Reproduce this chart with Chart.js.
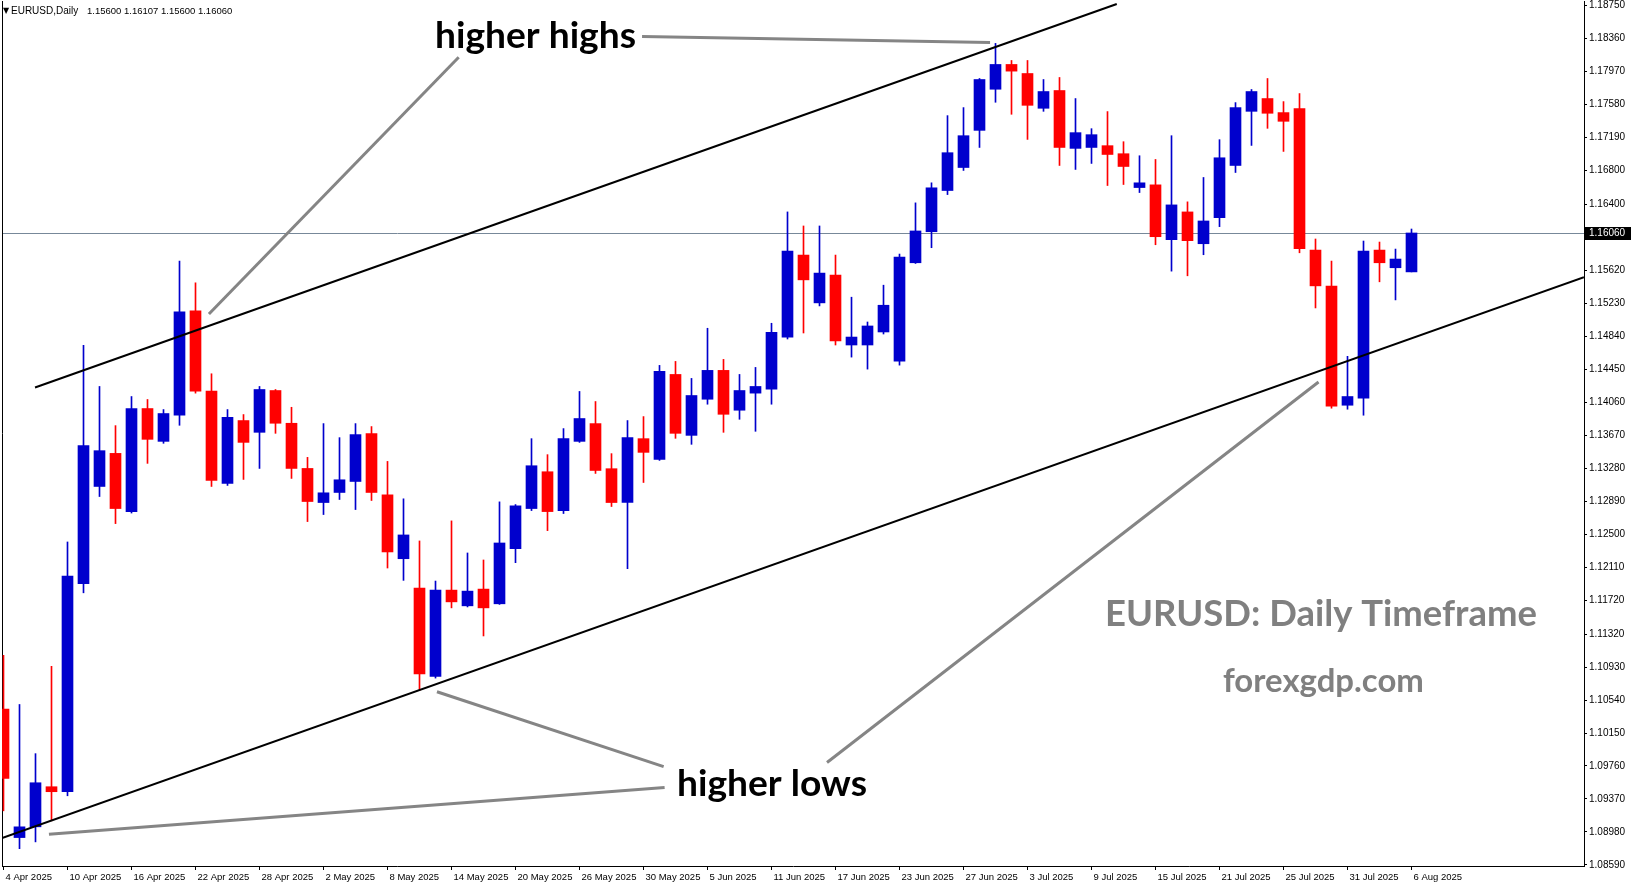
<!DOCTYPE html>
<html>
<head>
<meta charset="utf-8">
<title>EURUSD Daily</title>
<script src="https://cdn.jsdelivr.net/npm/chart.js@4.4.1/dist/chart.umd.min.js"></script>
<style>
  html, body { margin: 0; padding: 0; background: #fff; }
  canvas { display: block; }
</style>
</head>
<body>
<canvas id="chart" width="1631" height="888"></canvas>
<script>
// one label every 4 bars, bar 0 = 4 Apr 2025
const tickDates = ['4 Apr 2025', '10 Apr 2025', '16 Apr 2025', '22 Apr 2025', '28 Apr 2025', '2 May 2025',
  '8 May 2025', '14 May 2025', '20 May 2025', '26 May 2025', '30 May 2025', '5 Jun 2025', '11 Jun 2025',
  '17 Jun 2025', '23 Jun 2025', '27 Jun 2025', '3 Jul 2025', '9 Jul 2025', '15 Jul 2025', '21 Jul 2025',
  '25 Jul 2025', '31 Jul 2025', '6 Aug 2025'];

const openP = [1.10432, 1.08914, 1.09041, 1.09515, 1.09456, 1.11914, 1.13064, 1.13455, 1.12767, 1.13985,
  1.13597, 1.13906, 1.15139, 1.14190, 1.13099, 1.13843, 1.13704, 1.14198, 1.13811, 1.13277,
  1.12874, 1.12993, 1.13123, 1.13689, 1.12965, 1.12210, 1.11863, 1.10819, 1.11839, 1.11653,
  1.11851, 1.11677, 1.12329, 1.12803, 1.13238, 1.12779, 1.13597, 1.13807, 1.13274, 1.12874,
  1.13629, 1.13384, 1.14388, 1.13668, 1.14095, 1.14436, 1.13965, 1.14167, 1.14214, 1.14830,
  1.15799, 1.15234, 1.15562, 1.14736, 1.14736, 1.14890, 1.14546, 1.15708, 1.16075, 1.16562,
  1.16834, 1.17273, 1.17759, 1.18052, 1.17945, 1.17534, 1.17744, 1.17060, 1.17071, 1.17092,
  1.16997, 1.16597, 1.16629, 1.15981, 1.16309, 1.15933, 1.16241, 1.16858, 1.17498, 1.17649,
  1.17483, 1.17530, 1.15858, 1.15432, 1.14024, 1.14107, 1.15858, 1.15649, 1.15600];
const highP = [1.11068, 1.10487, 1.09906, 1.10938, 1.12408, 1.14732, 1.14246, 1.13783, 1.14127, 1.14092,
  1.13973, 1.15728, 1.15471, 1.14396, 1.13973, 1.13914, 1.14246, 1.14210, 1.14000, 1.13408,
  1.13807, 1.13641, 1.13807, 1.13772, 1.13360, 1.12918, 1.12420, 1.11946, 1.12657, 1.12278,
  1.12195, 1.12882, 1.12850, 1.13629, 1.13440, 1.13748, 1.14187, 1.14068, 1.13452, 1.13843,
  1.13890, 1.14495, 1.14542, 1.14341, 1.14934, 1.14566, 1.14388, 1.14471, 1.14993, 1.16309,
  1.16143, 1.16143, 1.15799, 1.15301, 1.15008, 1.15443, 1.15811, 1.16416, 1.16653, 1.17447,
  1.17542, 1.17886, 1.18301, 1.18099, 1.18099, 1.17874, 1.17898, 1.17649, 1.17293, 1.17495,
  1.17139, 1.16973, 1.16929, 1.17210, 1.16428, 1.16716, 1.17163, 1.17601, 1.17756, 1.17886,
  1.17613, 1.17708, 1.15989, 1.15728, 1.14602, 1.15965, 1.15953, 1.15870, 1.16107];
const lowP = [1.09230, 1.08783, 1.08863, 1.09112, 1.09408, 1.11807, 1.12945, 1.12625, 1.12750, 1.13337,
  1.13574, 1.13787, 1.14167, 1.13064, 1.13076, 1.13147, 1.13277, 1.13692, 1.13159, 1.12649,
  1.12732, 1.12910, 1.12791, 1.12898, 1.12100, 1.11954, 1.10650, 1.10799, 1.11629, 1.11640,
  1.11297, 1.11670, 1.12163, 1.12779, 1.12542, 1.12744, 1.13585, 1.13218, 1.12827, 1.12092,
  1.13111, 1.13372, 1.13633, 1.13562, 1.14036, 1.13704, 1.13858, 1.13716, 1.14036, 1.14807,
  1.14878, 1.15198, 1.14736, 1.14593, 1.14451, 1.14866, 1.14498, 1.15700, 1.15886, 1.16514,
  1.16799, 1.17071, 1.17605, 1.17463, 1.17166, 1.17498, 1.16858, 1.16811, 1.16882, 1.16621,
  1.16633, 1.16538, 1.15921, 1.15609, 1.15554, 1.15803, 1.16135, 1.16775, 1.17095, 1.17297,
  1.17024, 1.15826, 1.15174, 1.13989, 1.13977, 1.13906, 1.15483, 1.15269, 1.15600];
const closeP = [1.09613, 1.09041, 1.09562, 1.09456, 1.12005, 1.13546, 1.13487, 1.12803, 1.13985, 1.13621,
  1.13926, 1.15127, 1.14190, 1.13135, 1.13882, 1.13585, 1.14210, 1.13811, 1.13277, 1.12886,
  1.12989, 1.13143, 1.13677, 1.12993, 1.12290, 1.12491, 1.10847, 1.11839, 1.11700, 1.11827,
  1.11629, 1.12396, 1.12835, 1.13309, 1.12767, 1.13629, 1.13867, 1.13253, 1.12874, 1.13641,
  1.13467, 1.14424, 1.13692, 1.14139, 1.14436, 1.13917, 1.14198, 1.14246, 1.14886, 1.15847,
  1.15506, 1.15586, 1.14783, 1.14830, 1.14961, 1.15206, 1.15775, 1.16084, 1.16594, 1.17009,
  1.17210, 1.17874, 1.18052, 1.17973, 1.17569, 1.17732, 1.17071, 1.17246, 1.17222, 1.16988,
  1.16846, 1.16653, 1.16016, 1.16392, 1.15969, 1.16202, 1.16949, 1.17542, 1.17732, 1.17475,
  1.17380, 1.15874, 1.15435, 1.14012, 1.14127, 1.15847, 1.15708, 1.15752, 1.16060];

const priceTicks = [1.18750, 1.18360, 1.17970, 1.17580, 1.17190, 1.16800, 1.16400, 1.16010, 1.15620,
  1.15230, 1.14840, 1.14450, 1.14060, 1.13670, 1.13280, 1.12890, 1.12500, 1.12110, 1.11720, 1.11320,
  1.10930, 1.10540, 1.10150, 1.09760, 1.09370, 1.08980, 1.08590];

// channel lines and pointer lines, in (bar index, price)
const upperChannel = [{x: 1.97, y: 1.14234}, {x: 69.58, y: 1.18767}];
const lowerChannel = [{x: -0.09, y: 1.08909}, {x: 98.78, y: 1.15538}];
const pointerHighsA = [{x: 28.45, y: 1.18138}, {x: 12.84, y: 1.15103}];
const pointerHighsB = [{x: 39.91, y: 1.18383}, {x: 61.66, y: 1.18312}];
const pointerLowsA = [{x: 41.32, y: 1.09507}, {x: 2.84, y: 1.08954}];
const pointerLowsB = [{x: 41.26, y: 1.09753}, {x: 27.09, y: 1.10638}];
const pointerLowsC = [{x: 51.47, y: 1.09801}, {x: 82.19, y: 1.14299}];

const yMin = 1.08578;
const yMax = 1.18802;
const xMin = -0.09375;
const xMax = 98.78125;

const bullColor = '#0000CD';
const bearColor = '#FF0000';
const candleColors = closeP.map((c, i) => c >= openP[i] ? bullColor : bearColor);
const lastPrice = closeP[closeP.length - 1];

Chart.defaults.font.family = "'Liberation Sans', Arial, sans-serif";

function fitText(ctx, text, left, right, baseline, weight, family, color) {
  ctx.font = weight + ' 40px ' + family;
  const w = ctx.measureText(text).width;
  const size = 40 * (right - left) / w;
  ctx.font = weight + ' ' + size.toFixed(2) + 'px ' + family;
  ctx.fillStyle = color;
  ctx.textAlign = 'left';
  ctx.textBaseline = 'alphabetic';
  ctx.fillText(text, left, baseline);
}

const overlay = {
  id: 'overlay',
  beforeDatasetsDraw(chart) {
    const {ctx, chartArea: a, scales: {y}} = chart;
    const py = Math.round(y.getPixelForValue(lastPrice)) + 0.5;
    ctx.save();
    ctx.lineWidth = 1;
    ctx.strokeStyle = '#778899';
    ctx.beginPath();
    ctx.moveTo(a.left, py);
    ctx.lineTo(a.right, py);
    ctx.stroke();
    ctx.strokeStyle = '#000';
    ctx.beginPath();
    ctx.moveTo(a.left + 0.5, a.top);
    ctx.lineTo(a.left + 0.5, a.bottom);
    ctx.stroke();
    ctx.restore();
  },
  afterDraw(chart) {
    const {ctx, chartArea: a, scales: {y}} = chart;
    ctx.save();

    // current price tag
    const py = Math.round(y.getPixelForValue(lastPrice));
    ctx.fillStyle = '#000';
    ctx.fillRect(a.right + 1, py - 6, 47, 13);
    ctx.fillStyle = '#fff';
    ctx.font = "10px 'Liberation Sans', Arial, sans-serif";
    ctx.textBaseline = 'middle';
    ctx.textAlign = 'left';
    ctx.fillText(lastPrice.toFixed(5), a.right + 5, py + 0.5);

    // header
    ctx.fillStyle = '#000';
    ctx.font = "8px 'DejaVu Sans', sans-serif";
    ctx.fillText('\u25BC', 3, 11);
    ctx.font = "10px 'Liberation Sans', Arial, sans-serif";
    ctx.fillText('EURUSD,Daily', 11, 11);
    ctx.font = "9.5px 'Liberation Sans', Arial, sans-serif";
    ctx.fillText([openP, highP, lowP, closeP].map(s => s[s.length - 1].toFixed(5)).join(' '), 87, 11);

    // annotations
    fitText(ctx, 'higher highs', 435, 636, 48, 'bold', 'Lato', '#000');
    fitText(ctx, 'higher lows', 677, 867, 796, 'bold', 'Lato', '#000');
    fitText(ctx, 'EURUSD: Daily Timeframe', 1105, 1537, 626, 'bold', 'Lato', '#808080');
    fitText(ctx, 'forexgdp.com', 1223, 1424, 692, 'bold', 'Lato', '#808080');
    ctx.restore();
  }
};

function lineSet(points, color, width) {
  return {
    type: 'line',
    data: points,
    borderColor: color,
    borderWidth: width,
    pointRadius: 0,
    fill: false,
    tension: 0,
    order: 0
  };
}

new Chart(document.getElementById('chart'), {
  type: 'bar',
  data: {
    datasets: [
      lineSet(upperChannel, '#000', 2),
      lineSet(lowerChannel, '#000', 2),
      lineSet(pointerHighsA, '#858585', 3),
      lineSet(pointerHighsB, '#858585', 3),
      lineSet(pointerLowsA, '#858585', 3),
      lineSet(pointerLowsB, '#858585', 3),
      lineSet(pointerLowsC, '#858585', 3),
      {
        label: 'body',
        data: openP.map((o, i) => ({x: i, y: [o, closeP[i]]})),
        backgroundColor: candleColors,
        borderWidth: 0,
        grouped: false,
        barPercentage: 1,
        categoryPercentage: 1,
        maxBarThickness: 11,
        minBarLength: 1,
        order: 1
      },
      {
        label: 'wick',
        data: lowP.map((l, i) => ({x: i, y: [l, highP[i]]})),
        backgroundColor: candleColors,
        borderWidth: 0,
        grouped: false,
        barPercentage: 1,
        categoryPercentage: 1,
        maxBarThickness: 1,
        order: 2
      }
    ]
  },
  options: {
    responsive: false,
    animation: false,
    events: [],
    layout: { padding: { left: 2, top: 1, right: 0, bottom: 0 } },
    plugins: {
      legend: { display: false },
      tooltip: { enabled: false }
    },
    scales: {
      x: {
        type: 'linear',
        position: 'bottom',
        min: xMin,
        max: xMax,
        offset: false,
        afterBuildTicks: s => { s.ticks = tickDates.map((d, k) => ({ value: k * 4 })); },
        afterFit: s => { s.height = 22; s.paddingLeft = 0; s.paddingRight = 0; },
        ticks: {
          callback: (v, k) => tickDates[k],
          align: 'start',
          labelOffset: 2,
          padding: 2,
          maxRotation: 0,
          autoSkip: false,
          color: '#000',
          font: { size: 9.5 }
        },
        grid: { drawOnChartArea: false, tickLength: 4, color: '#000', offset: false },
        border: { display: true, color: '#000', width: 1 }
      },
      y: {
        type: 'linear',
        position: 'right',
        min: yMin,
        max: yMax,
        afterBuildTicks: s => { s.ticks = priceTicks.map(v => ({ value: v })); },
        afterFit: s => { s.width = 47; s.paddingTop = 0; s.paddingBottom = 0; },
        ticks: {
          callback: v => v.toFixed(5),
          padding: 2,
          autoSkip: false,
          color: '#000',
          font: { size: 10 }
        },
        grid: { drawOnChartArea: false, tickLength: 3, color: '#000' },
        border: { display: true, color: '#000', width: 1 }
      }
    }
  },
  plugins: [overlay]
});
</script>
</body>
</html>
